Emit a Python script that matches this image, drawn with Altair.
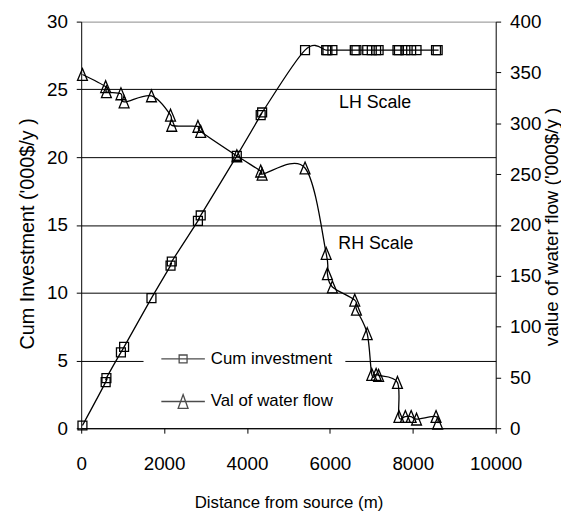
import altair as alt
import pandas as pd

# ---- data ----
dist = [30, 590, 608, 958, 1035, 1695, 2155, 2185, 2816, 2883, 3754, 4330, 4365,
        5400, 5910, 5940, 6060, 6600, 6640, 6900, 7010, 7115, 7175, 7630, 7665,
        7820, 7960, 8090, 8560, 8600]
cum_invest = [0.2, 3.4, 3.7, 5.6, 6.0, 9.6, 12.0, 12.3, 15.3, 15.7, 20.1, 23.1, 23.3,
              27.9, 27.9, 27.9, 27.9, 27.9, 27.9, 27.9, 27.9, 27.9, 27.9, 27.9, 27.9,
              27.9, 27.9, 27.9, 27.9, 27.9]
water_val = [348, 336, 331, 329, 321, 327, 308, 298, 297, 292, 268, 253, 250,
             256, 172, 152, 139, 126, 117, 93, 53, 53, 52, 45, 11.5,
             11.5, 11.5, 9, 11.5, 5]
series_names = ["Cum investment", "Val of water flow"]
note_labels = ["LH Scale", "RH Scale"]
note_dist = [7090, 7110]
note_lh = [24.0, 13.6]
x_ticks = [0, 2000, 4000, 6000, 8000, 10000]
left_ticks = [0, 5, 10, 15, 20, 25, 30]
right_ticks = [0, 50, 100, 150, 200, 250, 300, 350, 400]

df = pd.DataFrame({"dist": dist, "cum": cum_invest, "val": water_val})
notes_df = pd.DataFrame({"label": note_labels, "dist": note_dist, "cum": note_lh})
legend_df = pd.DataFrame({"series": series_names})

FONT = "Liberation Sans, Arial, sans-serif"

# marker shapes (unit paths)
SQ = "M-1,-1H1V1H-1Z"
TRI = "M0,-1.2L1,1.2L-1,1.2Z"
LEG_SQ = "M-2.2,0H2.2M-0.4,-0.4H0.4V0.4H-0.4Z"
LEG_TRI = "M-2.2,0H2.2M0,-0.7L0.5,0.7H-0.5Z"

x_enc = alt.X(
    "dist:Q",
    scale=alt.Scale(domain=[0, 10000], nice=False, zero=False),
    axis=alt.Axis(
        values=x_ticks, title="Distance from source (m)", grid=False,
        domainColor="black", tickColor="black", tickSize=5,
        labelFont=FONT, labelFontSize=19, labelColor="black", labelPadding=22,
        labelFlush=False, labelOverlap=False,
        titleFont=FONT, titleFontSize=17, titleFontWeight="normal",
        titleColor="black", titlePadding=21, format="d",
    ),
)

y_left = alt.Y(
    "cum:Q",
    scale=alt.Scale(domain=[0, 30], nice=False),
    axis=alt.Axis(
        orient="left", values=left_ticks, title="Cum Investment ('000$/y )",
        grid=True,
        gridColor={"condition": {"test": "datum.value === 30", "value": "#8c8c8c"},
                   "value": "#000000"},
        gridWidth=1, domainColor="black", tickColor="black", tickSize=5,
        labelFont=FONT, labelFontSize=19, labelColor="black", labelPadding=9,
        labelFlush=False, labelOverlap=False,
        titleFont=FONT, titleFontSize=20, titleFontWeight="normal", titleColor="black",
        titleAngle=270, titleBaseline="alphabetic", titleX=-48, titleY=214,
        titleAlign="center",
    ),
)

y_right = alt.Y(
    "val:Q",
    scale=alt.Scale(domain=[0, 400], nice=False),
    axis=alt.Axis(
        orient="right", values=right_ticks, title="value of water flow ('000$/y )",
        grid=False, domainColor="black", tickColor="black", tickSize=5,
        labelFont=FONT, labelFontSize=19, labelColor="black", labelPadding=9,
        labelFlush=False, labelOverlap=False,
        titleFont=FONT, titleFontSize=19, titleFontWeight="normal", titleColor="black",
        titleAngle=270, titleBaseline="alphabetic", titleX=62, titleY=207,
        titleAlign="center",
    ),
)

cum_line = alt.Chart(df).mark_line(
    interpolate="cardinal", color="black", strokeWidth=1.3
).encode(x=x_enc, y=y_left)

cum_pts = alt.Chart(df).mark_point(
    shape=SQ, size=81, filled=False, color="black", strokeWidth=1.3, opacity=1
).encode(x=x_enc, y=y_left)

notes = alt.Chart(notes_df).mark_text(
    font=FONT, fontSize=18, color="black", align="center", baseline="middle"
).encode(x=x_enc, y=y_left, text="label:N")

legend_layer = alt.Chart(legend_df).mark_point(
    filled=False, color="black", strokeWidth=1.3
).encode(
    x=x_enc,
    y=y_left,
    shape=alt.Shape(
        "series:N",
        scale=alt.Scale(domain=series_names, range=[LEG_SQ, LEG_TRI]),
        legend=alt.Legend(
            title=None, orient="none", legendX=63, legendY=318,
            padding=12, fillColor="white", symbolSize=400,
            symbolOffset=17, labelOffset=17, rowPadding=24,
            symbolStrokeColor="black", symbolFillColor="transparent",
            symbolStrokeWidth=1.3,
            labelFont=FONT, labelFontSize=17, labelColor="black",
        ),
    ),
).transform_filter("false")

val_line = alt.Chart(df).mark_line(
    interpolate="cardinal", color="black", strokeWidth=1.3
).encode(x=x_enc, y=y_right)

val_pts = alt.Chart(df).mark_point(
    shape=TRI, size=100, filled=False, color="black", strokeWidth=1.3, opacity=1
).encode(x=x_enc, y=y_right)

left = alt.layer(cum_line, cum_pts, notes, legend_layer)
right = alt.layer(val_line, val_pts)

chart = alt.layer(left, right).resolve_scale(y="independent").properties(
    width=419, height=411,
    autosize=alt.AutoSizeParams(type="none"),
    padding={"left": 74, "top": 11, "right": 66, "bottom": 90},
    background="white",
).configure_view(stroke=None)

chart.save("out.html", embed_options={"renderer": "svg", "actions": False})
